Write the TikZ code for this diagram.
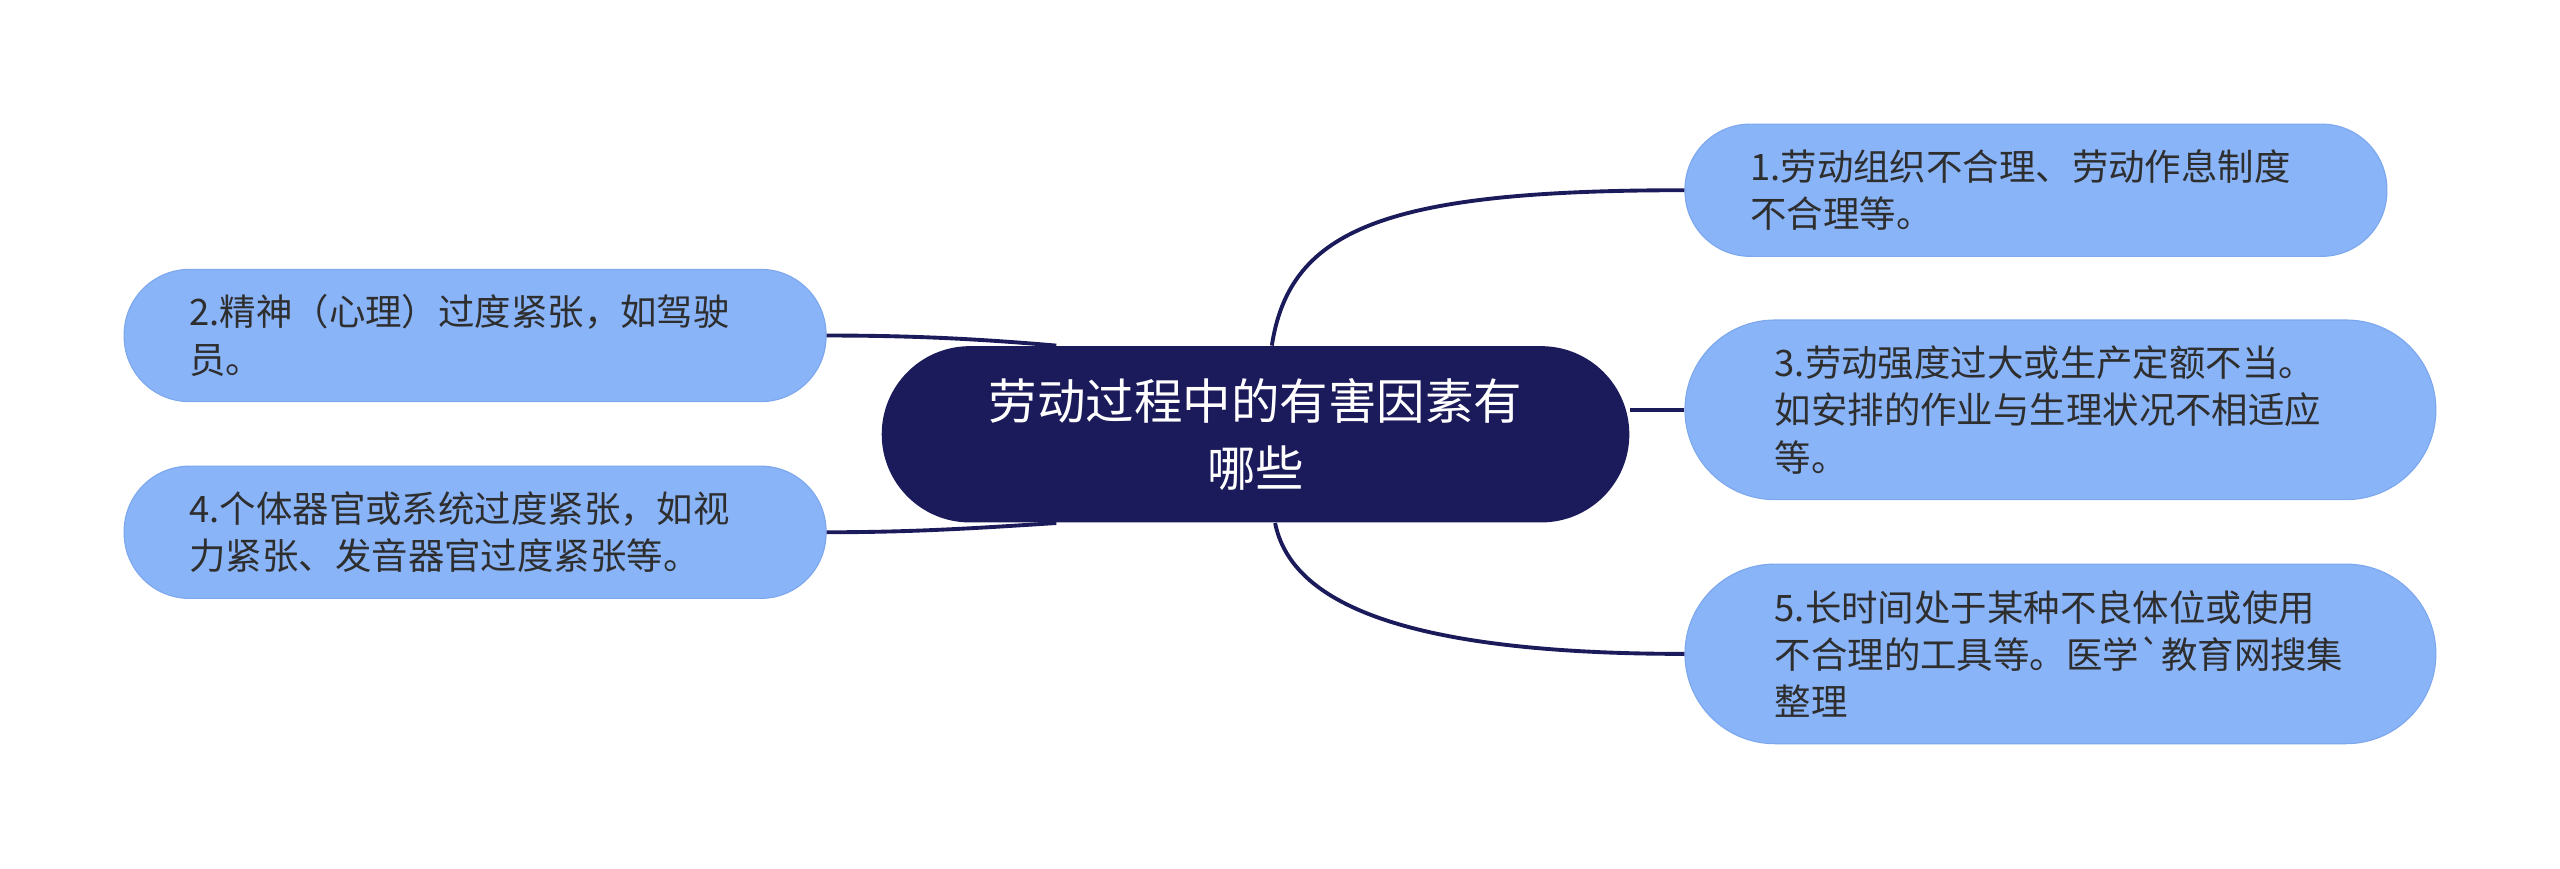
\documentclass[tikz,border=0pt]{standalone}
\usepackage{fontspec}
\newfontfamily\cjkfont{Noto Sans CJK SC}
\usepackage{tikz}
\usetikzlibrary{calc}
\usetikzlibrary{positioning}

\definecolor{hubblue}{HTML}{1B1A5A}
\definecolor{leafblue}{HTML}{8AB4F8}
\definecolor{leafline}{HTML}{7EA8EE}
\definecolor{leaftext}{HTML}{2E2E2E}

\begin{document}
\begin{tikzpicture}[x=0.02cm,y=-0.02cm,
  hub/.style={rectangle,rounded corners=1.08cm,fill=hubblue,minimum width=9.16cm,minimum height=2.16cm,text=white,align=center,font=\cjkfont\fontsize{16.9}{23.2}\selectfont},
  leaf/.style={rectangle,rounded corners=0.8cm,fill=leafblue,draw=leafline,line width=0.4pt,text=leaftext,align=left,text width=7cm,inner xsep=0.8cm,minimum height=1.62cm,font=\cjkfont\fontsize{12.7}{16.5}\selectfont},
  wideleaf/.style={leaf,inner xsep=1.1cm,rounded corners=1.1cm,minimum height=2.2cm},
  link/.style={draw=hubblue,line width=1.35pt}]
\useasboundingbox (0,0) rectangle (1568,532);

\node[hub] (hub) at (769,266) {劳动过程中的有害因素有\\哪些};

\node[leaf] (n1) at (1247,116.5) {1.劳动组织不合理、劳动作息制度\\不合理等。};
\node[wideleaf] (n3) at (1262,251) {3.劳动强度过大或生产定额不当。\\如安排的作业与生理状况不相适应\\等。};
\node[wideleaf] (n5) at (1262,400.5) {5.长时间处于某种不良体位或使用\\不合理的工具等。医学`教育网搜集\\整理};
\node[leaf] (n2) at (291,205.5) {2.精神（心理）过度紧张，如驾驶\\员。};
\node[leaf] (n4) at (291,326) {4.个体器官或系统过度紧张，如视\\力紧张、发音器官过度紧张等。};

\draw[link] ($(hub.north)+(10,0)$) .. controls +(11,-72) and +(-182,0) .. (n1.west);
\draw[link] (n3.west) -- (n3.west -| hub.east);
\draw[link] ($(hub.south)+(12,0)$) .. controls +(9,45) and +(-182,0) .. (n5.west);
\draw[link] (n2.east) .. controls +(54,0) and +(-47,-4) .. ($(hub.north)+(-122,0)$);
\draw[link] (n4.east) .. controls +(54,0) and +(-47,3) .. ($(hub.south)+(-122,0)$);
\end{tikzpicture}
\end{document}
